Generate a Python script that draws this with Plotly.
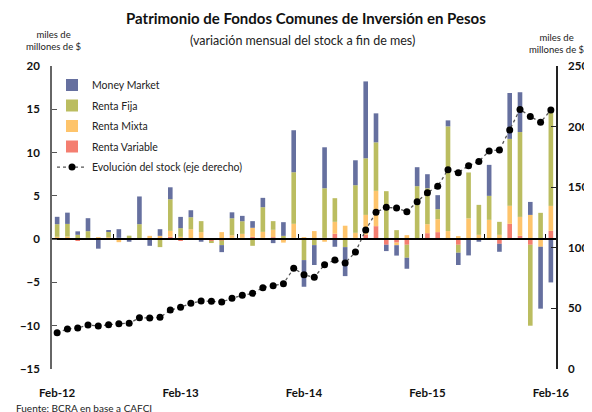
import pandas as pd
import plotly.graph_objects as go

months = [d.strftime("%b-%y") for d in pd.date_range("2012-02-01", "2016-02-01", freq="MS")]
tick_labels = ["Feb-12", "Feb-13", "Feb-14", "Feb-15", "Feb-16"]

money_market = [0.85, 1.3, 0.4, 1.5, -1.1, 0.15, 1.0, -0.3, 3.2, -0.77, 0.77, 1.38, 1.3,
                0.81, -0.3, 0.0, -0.81, 0.69, 0.62, 0.77, 1.08, -0.46, 1.58, 4.85, -3.08,
                -2.3, 4.73, -0.88, -3.35, 2.88, 8.88, 3.35, -0.73, -1.2, -1.27, 2.19, 1.62,
                1.62, 0.69, -1.42, -1.88, -0.3, 3.58, -0.92, 5.3, 4.6, 1.5, -7.15, -5.0]
renta_fija = [1.46, 1.46, 0.45, 0.77, 0.0, 0.65, 0.15, 0.3, 1.73, 0.0, -0.92, 3.65, 1.0,
              1.38, 1.27, -0.25, -0.54, 1.96, 1.46, -0.77, 2.85, 1.0, 0.38, 5.96, -2.42,
              -0.69, 5.73, 2.73, -0.92, 5.5, 6.54, 5.6, 5.54, 1.04, -1.5, 6.0, 4.15,
              1.15, 12.1, -0.92, 5.3, 3.46, 2.77, 1.5, 7.73, 9.8, -9.35, 3.04, 11.2]
renta_mixta = [0.27, 0.3, 0.05, 0.15, 0.23, 0.23, -0.35, 0.1, 0.0, 0.38, 0.23, 0.69, 0.27,
               1.15, 0.81, 0.0, 0.81, 0.3, 0.46, 1.04, 0.69, 0.85, -0.3, 1.62, 0.23,
               0.81, -0.3, 1.38, 1.4, 0.58, 2.3, 4.08, 0.0, -0.3, 0.46, 0.0, 1.04,
               1.5, 0.81, 0.35, 2.35, 0.5, 2.23, 0.5, 2.08, 2.19, 2.8, -0.88, 2.88]
renta_variable = [0.0, 0.0, -0.2, 0.0, 0.0, 0.0, 0.0, 0.0, 0.0, 0.0, 0.15, 0.27, -0.15,
                  0.0, 0.0, -0.2, -0.15, 0.15, 0.15, 0.27, 0.15, 0.23, -0.1, 0.15, 0.0,
                  0.12, 0.15, 0.62, 0.15, 0.15, 0.5, 1.5, -0.65, -0.4, -0.65, 0.12, 0.69,
                  0.81, 0.12, -0.65, 0.05, 0.0, 0.0, -0.54, 1.77, 0.38, -0.65, 0.0, 0.96]
stock = [30.0, 33.0, 33.8, 36.3, 35.5, 36.6, 37.4, 37.7, 42.3, 42.1, 42.6, 48.7, 50.9,
         54.2, 56.1, 55.8, 55.3, 58.3, 60.8, 62.4, 67.1, 68.7, 70.4, 83.1, 77.8,
         75.6, 86.1, 89.9, 87.4, 96.5, 114.7, 129.3, 133.4, 132.8, 129.8, 138.0, 145.5,
         150.7, 164.5, 162.0, 167.8, 171.3, 179.9, 180.7, 197.2, 214.2, 208.4, 203.5, 213.7]

FONT = "Lato"
bar_series = [
    ("Renta Variable", renta_variable, "#F47E70", 4),
    ("Renta Mixta", renta_mixta, "#FEC46B", 3),
    ("Renta Fija", renta_fija, "#BBBD60", 2),
    ("Money Market", money_market, "#66709F", 1),
]

fig = go.Figure()
for name, vals, color, rank in bar_series:
    fig.add_trace(go.Bar(x=months, y=vals, name=name, marker_color=color,
                         marker_line_width=0, width=0.45, legendrank=rank,
                         legendgroup=name))
fig.add_trace(go.Scatter(x=list(range(len(months))), y=stock, name="Evolución del stock (eje derecho)",
                         mode="lines+markers", xaxis="x2", yaxis="y2",
                         line=dict(color="#555555", dash="dot", width=1.3),
                         marker=dict(color="black", size=7), legendrank=5,
                         legendgroup="stock"))

fig.update_layout(
    width=592, height=412,
    margin=dict(l=37, r=38, t=58, b=51),
    paper_bgcolor="white", plot_bgcolor="white",
    barmode="relative", bargap=0.5,
    font=dict(family=FONT, size=11, color="#222222"),
    showlegend=True,
    legend=dict(x=0.0, y=0.985, xanchor="left", yanchor="top",
                bgcolor="rgba(0,0,0,0)", font=dict(family=FONT, size=10.5),
                tracegroupgap=1.5, itemwidth=30),
    xaxis=dict(type="category", range=[-0.5, len(months) - 0.5], tickvals=tick_labels,
               ticktext=tick_labels, ticks="", showline=False, showgrid=False,
               zeroline=False, ticklabelstandoff=15,
               tickfont=dict(family=FONT, size=11.5, weight="bold", color="#111111")),
    xaxis2=dict(overlaying="x", anchor="free", position=15 / 35,
                range=[-0.5, len(months) - 0.5],
                tickvals=[5.5 + 6 * i for i in range(8)], ticks="inside", ticklen=4,
                tickcolor="black", showticklabels=False, showline=True,
                linecolor="black", linewidth=1.5, showgrid=False, zeroline=False,
                layer="above traces"),
    yaxis=dict(range=[-15, 20], dtick=5, ticks="inside", ticklen=5, tickcolor="#555555",
               showline=True, linecolor="#666666", linewidth=1.5, showgrid=False,
               zeroline=False, ticklabelstandoff=8,
               tickfont=dict(family=FONT, size=11.5, weight="bold", color="#111111")),
    yaxis2=dict(range=[0, 250], dtick=50, overlaying="y", side="right", anchor="x2",
                ticks="inside", ticklen=5, tickcolor="#222222", showline=True,
                linecolor="#222222", linewidth=1.5, showgrid=False, zeroline=False,
                ticklabelstandoff=8,
                tickfont=dict(family=FONT, size=11.5, weight="bold", color="#111111")),
)

# positions below are in screen pixels of the plot area frame (plot area spans x 45-562, y 66-369)
annotations = [
    dict(text="<b>Patrimonio de Fondos Comunes de Inversión en Pesos</b>", x=306, y=18,
         font=dict(size=15, color="#111111")),
    dict(text="(variación mensual del stock a fin de mes)", x=302, y=40,
         font=dict(size=12.5, color="#222222")),
    dict(text="miles de<br>millones de $", x=47, y=40, font=dict(size=9.5, color="#222222")),
    dict(text="miles de<br>millones de $", x=563, y=43, font=dict(size=9.5, color="#222222")),
    dict(text="Fuente: BCRA en base a CAFCI", x=6, y=408, xanchor="left",
         font=dict(size=10, color="#222222")),
]
for a in annotations:
    fig.add_annotation(xref="paper", yref="paper", showarrow=False,
                       x=(a["x"] - 45) / 517, y=(369 - a["y"]) / 303,
                       xanchor=a.get("xanchor", "center"), yanchor="middle",
                       text=a["text"], font=dict(family=FONT, **a["font"]))

fig.write_html("out.html")
